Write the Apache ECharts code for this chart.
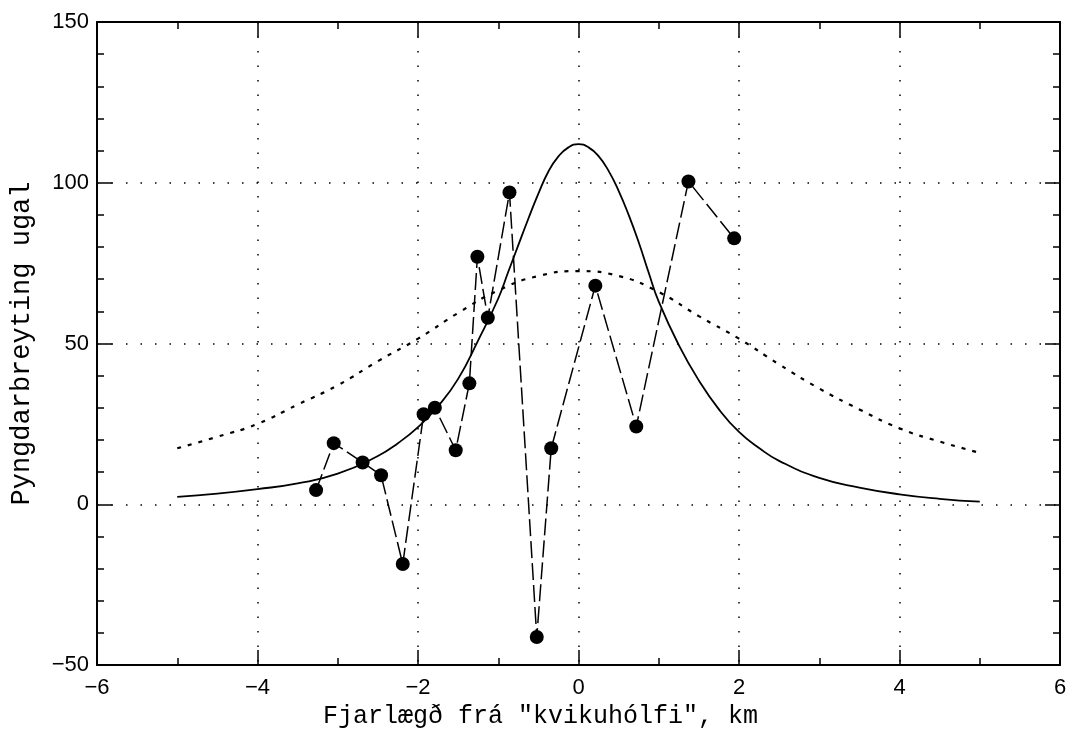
<!DOCTYPE html>
<html>
<head>
<meta charset="utf-8">
<script src="https://cdn.jsdelivr.net/npm/echarts@6/dist/echarts.min.js"></script>
<style>
  html,body{margin:0;padding:0;background:#fff;}
  #main{width:1070px;height:736px;}
</style>
</head>
<body>
<div id="main"></div>
<script>
// mæligögn (punktar)
var ptX = [-3.27,-3.05,-2.69,-2.46,-2.19,-1.93,-1.79,-1.53,-1.36,-1.26,-1.13,-0.86,-0.52,-0.34,0.21,0.72,1.37,1.94];
var ptY = [4.4,19,13,9,-18.6,28,30,16.8,37.6,77,58,97,-41.3,17.4,68,24.2,100.4,82.7];

// líkan, heil lína
var solidX = [-5,-4.5,-4,-3.5,-3,-2.5,-2.25,-2,-1.75,-1.5,-1.25,-1,-0.875,-0.75,-0.625,-0.5,-0.375,-0.25,-0.125,0,
              0.125,0.25,0.375,0.5,0.625,0.75,0.875,1,1.25,1.5,1.75,2,2.25,2.5,3,3.5,4,4.5,5];
var solidY = [2.3,3.3,4.7,6.5,9.5,15,19,24,30.5,39,51,64,72.3,80.6,88.8,96.6,103.5,108.2,111,112,
              111,108.3,103.7,97.5,90,81.5,72,63,49.5,38.5,29.5,22.5,17.5,13.5,8.2,5.2,3.1,1.7,0.8];

// líkan, punktalína
var dotX = [-5,-4.5,-4,-3.5,-3,-2.5,-2,-1.5,-1,-0.5,0,0.5,1,1.5,2,2.5,3,3.5,4,4.5,5];
var dotY = [17.4,21,25,31,37,44.5,51.5,59.5,66.5,71,72.5,71,66,58.5,51.5,43.5,36,29.5,23.6,19.5,16];

var xTicks = [-6,-4,-2,0,2,4,6];
var yTicks = [-50,0,50,100,150];

function pairs(xs, ys){
  var out = [];
  for (var i = 0; i < xs.length; i++) out.push([xs[i], ys[i]]);
  return out;
}
function minus(v){ return String(v).replace('-', '\u2212'); }

var black = '#000';
var tickFont = {color: black, fontSize: 22, fontFamily: 'Liberation Sans'};
var grid = {type: [1.5, 13], width: 1.5, color: black};

function frameAxis(pos, split){
  return {
    type: 'value', position: pos,
    axisLine: {show: true, onZero: false, lineStyle: {color: black, width: 2}},
    axisTick: {inside: true, length: 15, lineStyle: {color: black, width: 1.5}},
    minorTick: {show: true, splitNumber: split, length: 7, lineStyle: {color: black, width: 1.5}},
    axisLabel: {show: false}, splitLine: {show: false}, minorSplitLine: {show: false}
  };
}

var xTop = Object.assign(frameAxis('top', 2), {min: xTicks[0], max: xTicks[xTicks.length-1], interval: 2});
var yRight = Object.assign(frameAxis('right', 5), {min: yTicks[0], max: yTicks[yTicks.length-1], interval: 50});

var myChart = echarts.init(document.getElementById('main'));
myChart.setOption({
  animation: false,
  backgroundColor: '#fff',
  grid: {left: 95, right: 10, top: 22, bottom: 71, containLabel: false},
  xAxis: [
    {
      type: 'value', position: 'bottom', min: xTicks[0], max: xTicks[xTicks.length-1], interval: 2,
      name: 'Fjarlægð frá "kvikuhólfi", km',
      nameLocation: 'middle', nameGap: 35,
      nameTextStyle: {color: black, fontSize: 25, fontFamily: 'Liberation Mono', padding: [0, 76, 0, 0]},
      axisLine: {show: true, onZero: false, lineStyle: {color: black, width: 2}},
      axisTick: {inside: true, length: 15, lineStyle: {color: black, width: 1.5}},
      minorTick: {show: true, splitNumber: 2, length: 7, lineStyle: {color: black, width: 1.5}},
      axisLabel: Object.assign({margin: 12, formatter: minus}, tickFont),
      splitLine: {show: true, lineStyle: grid},
      minorSplitLine: {show: false}
    },
    xTop
  ],
  yAxis: [
    {
      type: 'value', position: 'left', min: yTicks[0], max: yTicks[yTicks.length-1], interval: 50,
      name: 'Pyngdarbreyting ugal',
      nameLocation: 'middle', nameGap: 62,
      nameTextStyle: {color: black, fontSize: 27, fontFamily: 'Liberation Mono'},
      axisLine: {show: true, onZero: false, lineStyle: {color: black, width: 2}},
      axisTick: {inside: true, length: 15, lineStyle: {color: black, width: 1.5}},
      minorTick: {show: true, splitNumber: 5, length: 7, lineStyle: {color: black, width: 1.5}},
      axisLabel: Object.assign({margin: 8, formatter: minus}, tickFont),
      splitLine: {show: true, lineStyle: grid},
      minorSplitLine: {show: false}
    },
    yRight
  ],
  series: [
    {
      name: 'líkan 1', type: 'line', smooth: true, showSymbol: false,
      data: pairs(solidX, solidY),
      lineStyle: {color: black, width: 1.8}
    },
    {
      name: 'líkan 2', type: 'line', smooth: true, showSymbol: false,
      data: pairs(dotX, dotY),
      lineStyle: {color: black, width: 2.2, type: [4, 7]}
    },
    {
      name: 'mælingar', type: 'line', symbol: 'circle', symbolSize: 14,
      data: pairs(ptX, ptY),
      itemStyle: {color: black},
      lineStyle: {color: black, width: 1.5, type: [17, 5]}
    }
  ]
});
</script>
</body>
</html>
